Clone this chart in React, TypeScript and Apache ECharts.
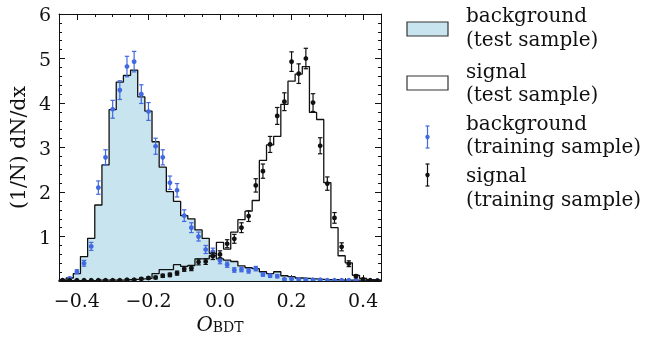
import React, { useEffect, useRef } from "react";
import * as echarts from "echarts";

// Histogram binning (45 bins of width 0.02 from -0.45 to 0.45)
const binStart = -0.45;
const binWidth = 0.02;
const binCount = 45;

// background (test sample) – filled step histogram
const bgTest = [
  0.02, 0.07, 0.17, 0.55, 0.96, 1.71, 2.61, 3.85, 4.47, 4.62,
  4.74, 4.14, 3.82, 3.13, 2.56, 2.01, 1.79, 1.47, 1.40, 1.15,
  0.96, 0.62, 0.50, 0.47, 0.44, 0.34, 0.30, 0.28, 0.21, 0.17,
  0.21, 0.12, 0.10, 0.07, 0.06, 0.05, 0.04, 0.03, 0.03, 0.02,
  0.02, 0.02, 0.01, 0.01, 0.01,
];

// signal (test sample) – open step histogram
const sigTest = [
  0.01, 0.01, 0.01, 0.01, 0.01, 0.02, 0.02, 0.02, 0.02, 0.03,
  0.04, 0.05, 0.06, 0.17, 0.26, 0.26, 0.37, 0.33, 0.35, 0.50,
  0.50, 0.57, 0.87, 0.72, 1.10, 1.38, 1.57, 1.81, 2.71, 3.06,
  3.25, 3.97, 4.49, 4.65, 4.82, 3.79, 3.63, 2.21, 1.20, 0.57,
  0.41, 0.13, 0.06, 0.03, 0.02,
];

// background (training sample) – points with error bars
const bgTrain = [
  0.02, 0.06, 0.21, 0.40, 0.78, 2.10, 2.78, 3.86, 4.29, 4.82,
  4.93, 4.20, 3.81, 3.03, 2.78, 2.21, 2.04, 1.47, 1.20, 1.00,
  0.71, 0.66, 0.46, 0.37, 0.25, 0.26, 0.23, 0.28, 0.15, 0.12,
  0.11, 0.04, 0.05, 0.04, 0.03, 0.03, 0.03, 0.02, 0.02, 0.02,
  0.02, 0.02, 0.01, 0.01, 0.01,
];
const bgTrainErr = [
  0.015, 0.025, 0.045, 0.065, 0.09, 0.15, 0.17, 0.2, 0.21, 0.23,
  0.23, 0.21, 0.2, 0.18, 0.17, 0.15, 0.15, 0.13, 0.11, 0.1,
  0.09, 0.08, 0.07, 0.06, 0.05, 0.05, 0.05, 0.05, 0.04, 0.035,
  0.035, 0.02, 0.02, 0.02, 0.015, 0.015, 0.015, 0.015, 0.015, 0.015,
  0.015, 0.015, 0.01, 0.01, 0.01,
];

// signal (training sample) – points with error bars
const sigTrain = [
  0.02, 0.02, 0.02, 0.02, 0.02, 0.02, 0.02, 0.02, 0.02, 0.03,
  0.03, 0.05, 0.07, 0.08, 0.12, 0.14, 0.18, 0.27, 0.29, 0.43,
  0.44, 0.56, 0.60, 0.84, 0.95, 1.20, 1.46, 2.15, 2.47, 3.07,
  3.71, 4.03, 4.93, 4.66, 5.00, 4.01, 3.04, 2.19, 1.42, 0.77,
  0.39, 0.11, 0.04, 0.02, 0.01,
];
const sigTrainErr = [
  0.015, 0.015, 0.015, 0.015, 0.015, 0.015, 0.015, 0.015, 0.015, 0.015,
  0.015, 0.02, 0.025, 0.03, 0.035, 0.04, 0.045, 0.05, 0.055, 0.065,
  0.065, 0.075, 0.08, 0.09, 0.1, 0.11, 0.12, 0.15, 0.16, 0.18,
  0.19, 0.2, 0.22, 0.22, 0.23, 0.2, 0.18, 0.15, 0.12, 0.09,
  0.065, 0.035, 0.02, 0.015, 0.01,
];

const xTicks = [-0.4, -0.2, 0.0, 0.2, 0.4];
const yTicks = [0, 1, 2, 3, 4, 5, 6];

const FONT = "DejaVu Serif";
const BLUE = "#4169e1";
const FILL = "#c8e4ef";
const INK = "#111111";

const edges: number[] = [];
for (let i = 0; i <= binCount; i++) edges.push(+(binStart + i * binWidth).toFixed(4));
const centers: number[] = [];
for (let i = 0; i < binCount; i++) centers.push(+(binStart + (i + 0.5) * binWidth).toFixed(4));

function stepData(vals: number[]) {
  const d: number[][] = [[edges[0], 0]];
  vals.forEach((v, i) => d.push([edges[i], v]));
  d.push([edges[binCount], vals[binCount - 1]]);
  d.push([edges[binCount], 0]);
  return d;
}

function errData(vals: number[], errs: number[]) {
  return vals.map((v, i) => [centers[i], v, errs[i]]);
}

function errRender(color: string) {
  return (params: any, api: any) => {
    const x = api.value(0);
    const y = api.value(1);
    const e = api.value(2);
    const c = api.coord([x, y]);
    const lo = api.coord([x, y - e]);
    const hi = api.coord([x, y + e]);
    const cap = 2.2;
    const st = { stroke: color, lineWidth: 1.2 };
    return {
      type: "group",
      children: [
        { type: "line", shape: { x1: c[0], y1: lo[1], x2: c[0], y2: hi[1] }, style: st },
        { type: "line", shape: { x1: c[0] - cap, y1: lo[1], x2: c[0] + cap, y2: lo[1] }, style: st },
        { type: "line", shape: { x1: c[0] - cap, y1: hi[1], x2: c[0] + cap, y2: hi[1] }, style: st },
        { type: "circle", shape: { cx: c[0], cy: c[1], r: 2.4 }, style: { fill: color } },
      ],
    };
  };
}

function fmtX(v: number) {
  const s = v.toFixed(1);
  return s.replace("-", "\u2212");
}

export default function App() {
  const ref = useRef<HTMLDivElement>(null);
  useEffect(() => {
    if (!ref.current) return;
    const chart = echarts.init(ref.current, null, { renderer: "svg" });
    const baseX = {
      type: "value",
      min: -0.45,
      max: 0.45,
      gridIndex: 0,
      splitLine: { show: false },
    };
    const baseY = {
      type: "value",
      min: 0,
      max: 6,
      interval: 1,
      splitLine: { show: false },
    };
    const legendX = 407;
    const boxW = 41;
    const boxH = 14;
    const textX = 466;
    const txt = (y: number, t: string) => ({
      type: "text",
      left: textX,
      top: y,
      style: { text: t, font: `20px '${FONT}'`, fill: "#111", textVerticalAlign: "top" },
    });
    const errGlyph = (cx: number, cy: number, color: string) => ({
      type: "group",
      children: [
        { type: "line", shape: { x1: cx, y1: cy - 11, x2: cx, y2: cy + 11 }, style: { stroke: color, lineWidth: 1.2 } },
        { type: "line", shape: { x1: cx - 2, y1: cy - 11, x2: cx + 2, y2: cy - 11 }, style: { stroke: color, lineWidth: 1.2 } },
        { type: "line", shape: { x1: cx - 2, y1: cy + 11, x2: cx + 2, y2: cy + 11 }, style: { stroke: color, lineWidth: 1.2 } },
        { type: "circle", shape: { cx, cy, r: 2.2 }, style: { fill: color } },
      ],
    });
    chart.setOption({
      animation: false,
      grid: { left: 59, right: 266, top: 14, bottom: 53, containLabel: false },
      xAxis: [
        {
          ...baseX,
          position: "bottom",
          interval: 0.05,
          axisLine: { show: true, onZero: false, lineStyle: { color: INK, width: 1 } },
          axisTick: { show: true, inside: true, length: 3, lineStyle: { color: INK, width: 1 } },
          axisLabel: {
            show: true,
            customValues: xTicks,
            formatter: (v: number) => fmtX(v),
            color: "#111",
            fontFamily: FONT,
            fontSize: 19,
            margin: 9,
          },
          name: "{o|O}{s|BDT}",
          nameLocation: "middle",
          nameGap: 26,
          nameTextStyle: {
            rich: {
              o: { fontFamily: FONT, fontStyle: "italic", fontSize: 20, color: "#111", verticalAlign: "bottom" },
              s: { fontFamily: FONT, fontSize: 14, color: "#111", padding: [8, 0, 0, 0] },
            },
          },
        },
        {
          ...baseX,
          position: "bottom",
          axisLine: { show: false, onZero: false },
          axisTick: { show: true, inside: true, length: 6, customValues: xTicks, lineStyle: { color: INK, width: 1 } },
          axisLabel: { show: false },
        },
        {
          ...baseX,
          position: "top",
          interval: 0.05,
          axisLine: { show: true, onZero: false, lineStyle: { color: INK, width: 1 } },
          axisTick: { show: true, inside: true, length: 3, lineStyle: { color: INK, width: 1 } },
          axisLabel: { show: false },
        },
        {
          ...baseX,
          position: "top",
          axisLine: { show: false, onZero: false },
          axisTick: { show: true, inside: true, length: 6, customValues: xTicks, lineStyle: { color: INK, width: 1 } },
          axisLabel: { show: false },
        },
      ],
      yAxis: [
        {
          ...baseY,
          position: "left",
          axisLine: { show: true, onZero: false, lineStyle: { color: INK, width: 1 } },
          axisTick: { show: true, inside: true, length: 6, lineStyle: { color: INK, width: 1 } },
          minorTick: { show: true, splitNumber: 5, length: 3, lineStyle: { color: INK, width: 1 } },
          minorSplitLine: { show: false },
          axisLabel: {
            customValues: yTicks,
            formatter: (v: number) => (v === 0 ? "" : String(v)),
            color: "#111",
            fontFamily: FONT,
            fontSize: 19,
            margin: 8,
          },
          name: "(1/N) dN/dx",
          nameLocation: "middle",
          nameGap: 31,
          nameRotate: 90,
          nameTextStyle: { fontFamily: FONT, fontSize: 20.5, color: "#111" },
        },
        {
          ...baseY,
          position: "right",
          axisLine: { show: true, onZero: false, lineStyle: { color: INK, width: 1 } },
          axisTick: { show: true, inside: true, length: 6, lineStyle: { color: INK, width: 1 } },
          minorTick: { show: true, splitNumber: 5, length: 3, lineStyle: { color: INK, width: 1 } },
          minorSplitLine: { show: false },
          axisLabel: { show: false },
        },
      ],
      series: [
        {
          name: "background (test sample)",
          type: "line",
          step: "end",
          data: stepData(bgTest),
          showSymbol: false,
          symbol: "none",
          lineStyle: { color: INK, width: 1.3 },
          areaStyle: { color: FILL, opacity: 1 },
          z: 2,
        },
        {
          name: "signal (test sample)",
          type: "line",
          step: "end",
          data: stepData(sigTest),
          showSymbol: false,
          symbol: "none",
          lineStyle: { color: INK, width: 1.3 },
          z: 3,
        },
        {
          name: "background (training sample)",
          type: "custom",
          renderItem: errRender(BLUE),
          data: errData(bgTrain, bgTrainErr),
          clip: true,
          encode: { x: 0, y: 1 },
          z: 4,
        },
        {
          name: "signal (training sample)",
          type: "custom",
          renderItem: errRender(INK),
          data: errData(sigTrain, sigTrainErr),
          clip: true,
          encode: { x: 0, y: 1 },
          z: 5,
        },
      ],
      graphic: [
        { type: "rect", shape: { x: legendX, y: 22, width: boxW, height: boxH }, style: { fill: FILL, stroke: "#333", lineWidth: 1.2 } },
        { type: "rect", shape: { x: legendX, y: 76, width: boxW, height: boxH }, style: { fill: "#fff", stroke: "#333", lineWidth: 1.2 } },
        errGlyph(427.5, 137, BLUE),
        errGlyph(427.5, 175, INK),
        txt(5, "background"),
        txt(29, "(test sample)"),
        txt(61, "signal"),
        txt(84, "(test sample)"),
        txt(113, "background"),
        txt(136, "(training sample)"),
        txt(165, "signal"),
        txt(189, "(training sample)"),
      ],
    });
    return () => chart.dispose();
  }, []);
  return (
    <div
      ref={ref}
      style={{ position: "fixed", left: 0, top: 0, width: 647, height: 339 }}
    />
  );
}
